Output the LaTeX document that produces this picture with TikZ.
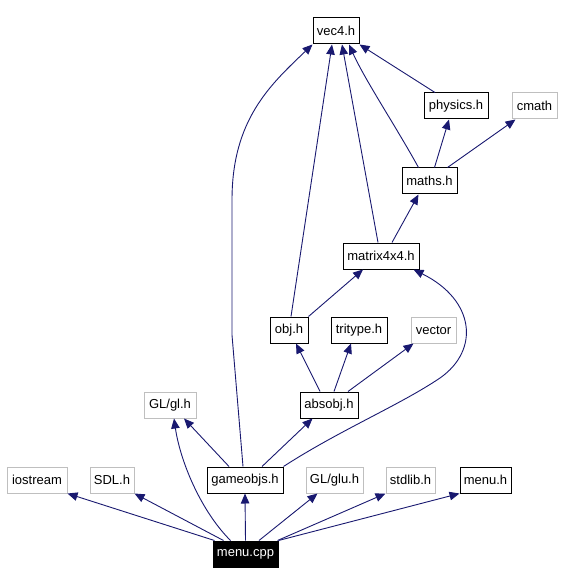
\documentclass[tikz,border=0pt]{standalone}
\usepackage{fontspec}
\setmainfont{Liberation Sans}
\usetikzlibrary{arrows.meta}
\definecolor{edgeblue}{HTML}{191970}
\definecolor{boxgray}{HTML}{BFBFBF}

\begin{document}
\begin{tikzpicture}[x=1pt,y=-1pt,
  file/.style={draw=black, line width=1pt, inner sep=0pt, minimum height=26pt,
    font=\fontsize{13}{15}\selectfont},
  extfile/.style={file, draw=boxgray},
  srcfile/.style={file, fill=black, text=white},
  incl/.style={draw=edgeblue, line width=0.9pt, -{Triangle[length=10pt,width=8.5pt]}}]
  \useasboundingbox (0,0) rectangle (562,585);
  % headers
  \node[file, minimum width=46pt] (vec) at (336,31) {vec4.h};
  \node[file, minimum width=64pt] (physics) at (456,106) {physics.h};
  \node[extfile, minimum width=45pt] (cmath) at (534.5,106) {cmath};
  \node[file, minimum width=55pt] (maths) at (429.5,181) {maths.h};
  \node[file, minimum width=76pt] (matrix) at (381,256) {matrix4x4.h};
  \node[file, minimum width=38pt] (obj) at (289,330) {obj.h};
  \node[file, minimum width=56pt] (tritype) at (359,330) {tritype.h};
  \node[extfile, minimum width=45pt] (vector) at (433.5,330) {vector};
  \node[extfile, minimum width=52pt] (glgl) at (170,405) {GL/gl.h};
  \node[file, minimum width=58pt] (absobj) at (329,405) {absobj.h};
  \node[extfile, minimum width=60pt] (iostream) at (37,480) {iostream};
  \node[extfile, minimum width=44pt] (sdl) at (112,480) {SDL.h};
  \node[file, minimum width=76pt] (gameobjs) at (245,480) {gameobjs.h};
  \node[extfile, minimum width=57pt] (glglu) at (334.5,480) {GL/glu.h};
  \node[extfile, minimum width=49pt] (stdlib) at (410.5,480) {stdlib.h};
  \node[file, minimum width=51pt] (menuh) at (485.5,480) {menu.h};
  \node[srcfile, minimum width=65pt] (menucpp) at (245.5,554) {menu.cpp};
  % includes of menu.cpp
  \draw[incl] ([xshift=2pt]menucpp.north west) -- (iostream.south east);
  \draw[incl] ([xshift=11pt]menucpp.north west) -- (sdl.south east);
  \draw[incl] ([xshift=18pt]menucpp.north west) .. controls (200,510) and (180,460) .. ([xshift=4pt]glgl.south);
  \draw[incl] (menucpp.north) -- (gameobjs.south);
  \draw[incl] ([xshift=13.5pt]menucpp.north) -- ([xshift=12pt]glglu.south west);
  \draw[incl] ([xshift=-1pt]menucpp.north east) -- (stdlib.south west);
  \draw[incl] (menucpp.north east) -- (menuh.south west);
  % includes of gameobjs.h
  \draw[incl] ([xshift=-16pt]gameobjs.north) -- ([xshift=14pt]glgl.south);
  \draw[incl] ([xshift=-2pt]gameobjs.north) -- (232,335) -- (232,200)
    .. controls (232,120) and (270,85) .. (vec.south west);
  \draw[incl] ([xshift=17pt]gameobjs.north) -- ([xshift=13pt]absobj.south west);
  \draw[incl] (gameobjs.north east) .. controls (340,430) and (400,405) .. (440,378)
    .. controls (480,350) and (475,300) .. ([xshift=-6pt]matrix.south east);
  % includes of absobj.h
  \draw[incl] ([xshift=-9pt]absobj.north) -- ([xshift=7pt]obj.south);
  \draw[incl] ([xshift=5pt]absobj.north) -- ([xshift=-8pt]tritype.south);
  \draw[incl] ([xshift=19pt]absobj.north) -- ([xshift=-20pt]vector.south);
  % includes of obj.h and matrix4x4.h
  \draw[incl] (obj.north east) -- ([xshift=-18pt]matrix.south);
  \draw[incl] ([xshift=2pt]obj.north) -- ([xshift=-4pt]vec.south);
  \draw[incl] ([xshift=-3pt]matrix.north) -- ([xshift=6pt]vec.south);
  \draw[incl] ([xshift=11pt]matrix.north) -- ([xshift=-11pt]maths.south);
  % includes of maths.h and physics.h
  \draw[incl] ([xshift=-11pt]maths.north) .. controls (395,125) and (365,80) .. ([xshift=13pt]vec.south);
  \draw[incl] ([xshift=5pt]maths.north) -- ([xshift=-7pt]physics.south);
  \draw[incl] ([xshift=18pt]maths.north) -- ([xshift=-19pt]cmath.south);
  \draw[incl] ([xshift=-21pt]physics.north) -- (vec.south east);
\end{tikzpicture}
\end{document}
